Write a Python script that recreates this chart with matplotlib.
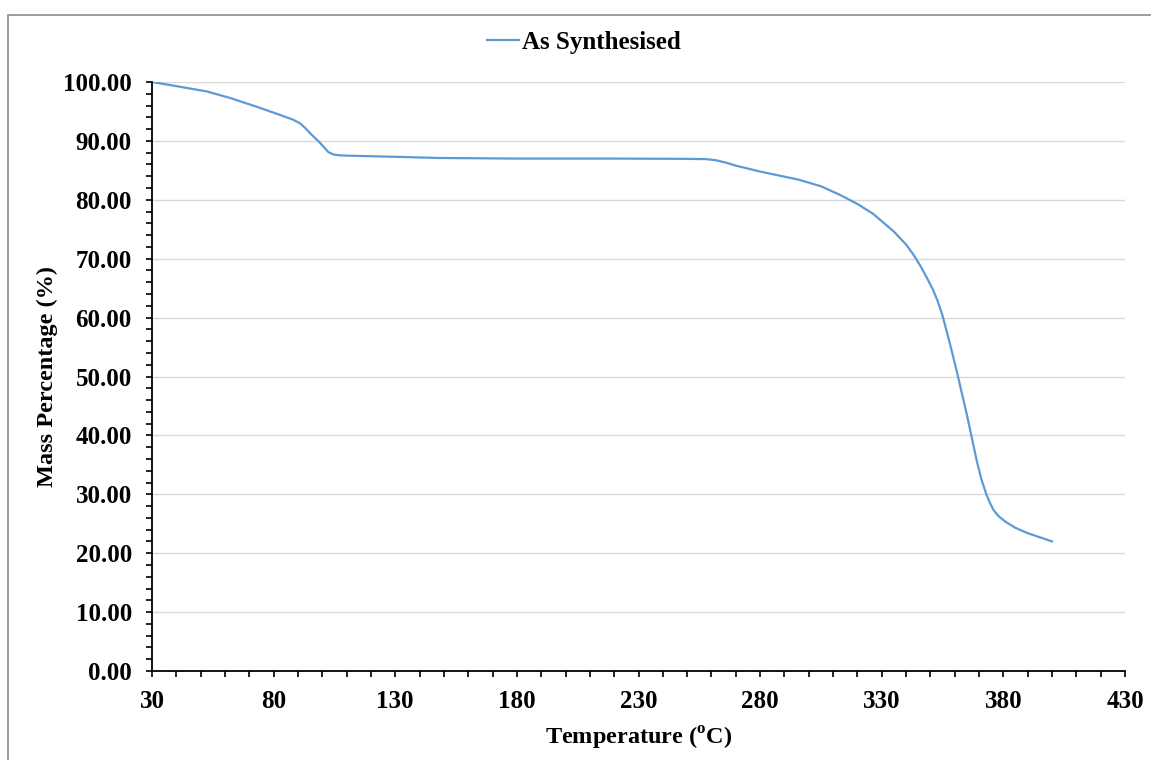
import matplotlib
matplotlib.use("Agg")
import matplotlib.pyplot as plt
from matplotlib.ticker import MultipleLocator, FormatStrFormatter
from matplotlib.patches import Rectangle

# TGA curve
temperature = [30, 40, 52.5, 62, 73, 82, 88, 90.8, 93, 95, 97, 99, 101, 102.5, 104.5, 107, 110,
               130, 148, 180, 220, 250, 258, 262, 266, 270, 280, 296, 305, 313, 320, 326.5,
               335, 340, 343, 346, 348.5, 351, 353, 355, 357, 358.5, 361, 365, 369, 371, 373,
               374.5, 376, 378, 381, 385, 390, 395, 400]
mass = [100, 99.3, 98.4, 97.3, 95.8, 94.5, 93.6, 93.0, 92.2, 91.3, 90.5, 89.7, 88.8, 88.1, 87.7, 87.55, 87.5,
        87.3, 87.1, 87.0, 87.0, 86.95, 86.9, 86.7, 86.3, 85.8, 84.8, 83.4, 82.3, 80.8, 79.3, 77.6,
        74.6, 72.4, 70.7, 68.7, 66.8, 64.8, 62.8, 60.3, 57.2, 54.8, 50.6, 43.5, 35.8, 32.5, 30.0,
        28.5, 27.3, 26.3, 25.3, 24.3, 23.4, 22.7, 22.0]
series_name = "As Synthesised"
x_ticks = [30, 80, 130, 180, 230, 280, 330, 380, 430]

plt.rcParams['font.family'] = ['Liberation Serif', 'DejaVu Serif']
plt.rcParams['font.weight'] = 'bold'
plt.rcParams['mathtext.fontset'] = 'custom'
plt.rcParams['mathtext.rm'] = 'Liberation Serif:bold'

fig = plt.figure(figsize=(11.51, 7.60), dpi=100)
ax = fig.add_axes([152/1151, 1 - 671/760, (1125-152)/1151, (671-82)/760])

# outer chart frame
fig.patches.append(Rectangle((8/1151, -0.1), 1.2, 1 - 15/760 + 0.1, transform=fig.transFigure,
                             fill=False, edgecolor='#8c8c8c', linewidth=1.2))

ax.plot(temperature, mass, color='#5B9BD5', linewidth=1.6, label=series_name)

ax.set_xlim(30, 430)
ax.set_ylim(0, 100)
ax.set_xticks(x_ticks)
ax.xaxis.set_minor_locator(MultipleLocator(10))
ax.yaxis.set_major_locator(MultipleLocator(10))
ax.yaxis.set_minor_locator(MultipleLocator(2))
ax.yaxis.set_major_formatter(FormatStrFormatter('%.2f'))

ax.grid(axis='y', which='major', color='#d9d9d9', linewidth=1)
ax.set_axisbelow(True)
for s in ['top', 'right']:
    ax.spines[s].set_visible(False)
for s in ['left', 'bottom']:
    ax.spines[s].set_color('black')
    ax.spines[s].set_linewidth(1.3)

ax.tick_params(which='both', direction='out', length=4.5, width=1.2, color='black',
               labelsize=18)
ax.tick_params(axis='x', pad=9)
ax.tick_params(axis='y', pad=10)

ax.set_xlabel("Temperature ($^{\\mathrm{o}}$C)", fontsize=17.5, fontweight='bold', labelpad=9)
ax.set_ylabel("Mass Percentage (%)", fontsize=17.5, fontweight='bold', labelpad=4)

ax.legend(loc='center', bbox_to_anchor=(0.507, 1 - 42/760), bbox_transform=fig.transFigure,
          frameon=False, fontsize=18, handlelength=1.3, handletextpad=0.1)

fig.savefig("out.png", dpi=100)
